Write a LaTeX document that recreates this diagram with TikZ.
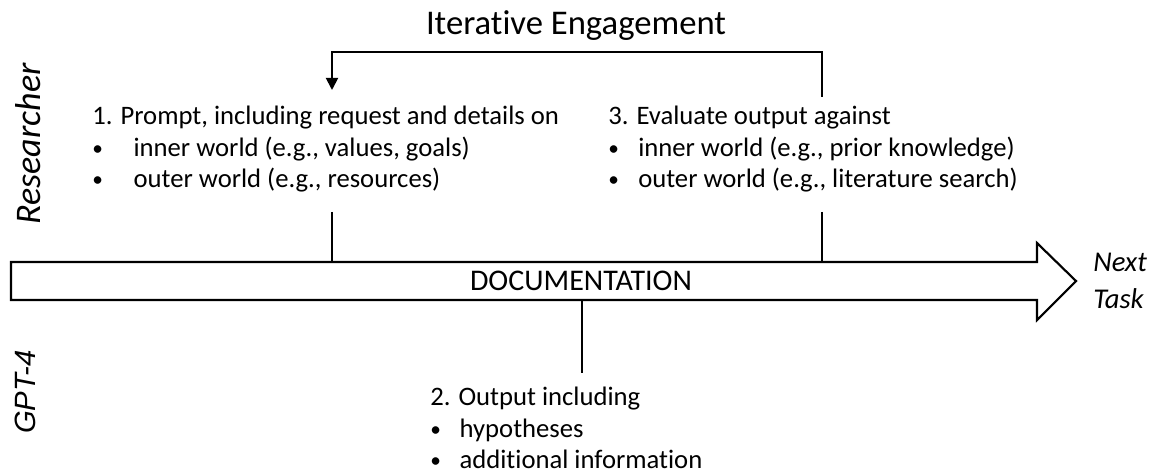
\documentclass[tikz,border=0pt]{standalone}
\usepackage{fontspec}
\setmainfont{Carlito}[Ligatures=NoCommon]
\newfontfamily\gptfont{Liberation Sans}
\usetikzlibrary{arrows.meta,positioning}
\tikzset{
  steptext/.style={align=left, anchor=north west, inner sep=0pt,
    font=\fontsize{20}{23.5}\selectfont},
  lane/.style={rotate=90, inner sep=0pt},
  link/.style={line width=1.4pt},
}
\newcommand{\bul}[1]{\makebox[#1][l]{\raisebox{0.8pt}{\fontsize{16}{16}\selectfont\textbullet}}}

\begin{document}
\begin{tikzpicture}[x=0.75pt, y=-0.75pt]
   \useasboundingbox (0,0) rectangle (1154,474);
   % lanes
   \node[lane, font=\fontsize{27}{30}\selectfont\itshape] (res) at (28,144) {Researcher};
   \node[lane, font=\fontsize{22}{25}\selectfont\gptfont\itshape] (gpt) at (25,392) {GPT-4};
   % documentation arrow
   \draw[line width=1.6pt, fill=white] (11,262) -- (1037,262) -- (1037,243) -- (1076,281)
      -- (1037,320) -- (1037,300) -- (11,300) -- cycle;
   \node[inner sep=0pt, font=\fontsize{22.5}{25}\selectfont] (doc) at (581,281) {DOCUMENTATION};
   \node[align=left, anchor=west, inner sep=0pt, font=\fontsize{21.5}{28}\selectfont\itshape] (next) at (1093,281) {Next\\Task};
   % steps
   \node[steptext] (p1) at (92,106) {1. Prompt, including request and details on\\
      \bul{31pt}inner world (e.g., values, goals)\\
      \bul{31pt}outer world (e.g., resources)};
   \node[steptext] (p3) at (608,106) {3. Evaluate output against\\
      \bul{22.5pt}inner world (e.g., prior knowledge)\\
      \bul{22.5pt}outer world (e.g., literature search)};
   \node[steptext] (p2) at (430,387) {2. Output including\\
      \bul{22pt}hypotheses\\
      \bul{22pt}additional information};
   \node[anchor=base, inner sep=0pt, font=\fontsize{26}{30}\selectfont] (iter) at (576,35) {Iterative Engagement};
   % connectors
   \coordinate (in1) at (332,262);
   \coordinate (in3) at (822,262);
   \coordinate (out2) at (582,300);
   \coordinate (top1) at (332,212);
   \coordinate (top3) at (822,212);
   \coordinate (bot2) at (582,373);
   \coordinate (back3) at (822,97);
   \coordinate (back1) at (332,90);
   \draw[link] (top1) -- (in1);
   \draw[link] (top3) -- (in3);
   \draw[link] (out2) -- (bot2);
   \draw[link, -{Triangle[width=9pt,length=9pt]}] (back3) -- ++(0,-45) -| (back1);
\end{tikzpicture}
\end{document}
